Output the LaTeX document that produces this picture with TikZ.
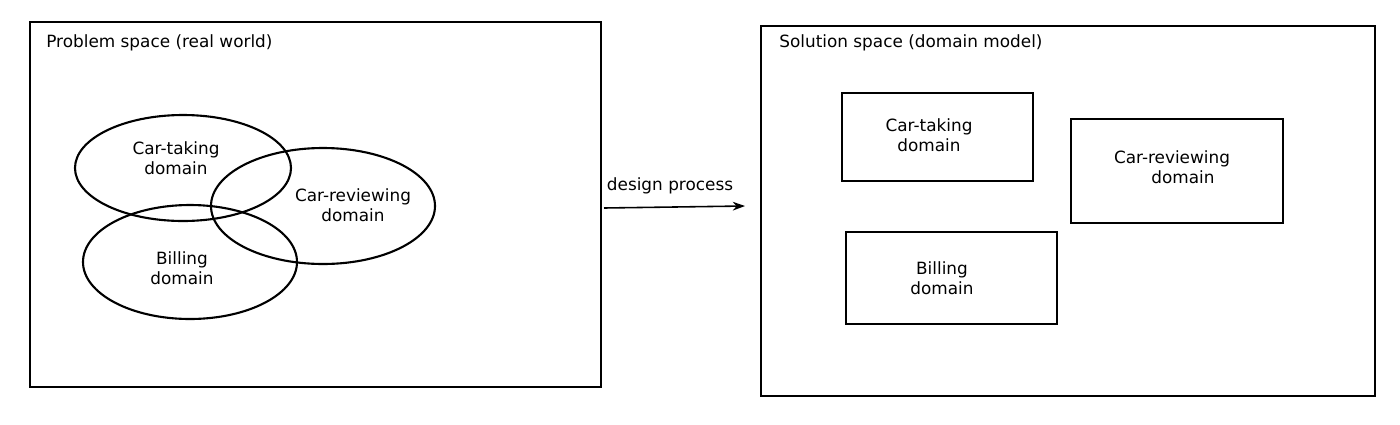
\documentclass[tikz,border=0pt]{standalone}
\usepackage{fontspec}
\setmainfont{DejaVu Sans}
\usepackage{tikz}
\usetikzlibrary{arrows.meta,positioning}

\tikzset{
  frame/.style={draw=black, line width=1.1pt},
  blob/.style={draw=black, line width=1.2pt},
  txt/.style={inner sep=0pt, align=center, font=\fontsize{9.6}{11.4}\selectfont},
}

\begin{document}
\begin{tikzpicture}
\useasboundingbox (0.000000,0.000000) rectangle (28.000000,-8.480000);

%Problem space frame
\draw[frame] (0.600000,-0.440000) rectangle (12.020000,-7.740000);
\node[txt, anchor=west] (probtitle) at (0.920000,-0.860000) {Problem space (real world)};

%Solution space frame
\draw[frame] (15.220000,-0.520000) rectangle (27.500000,-7.920000);
\node[txt, anchor=west] (soltitle) at (15.580000,-0.860000) {Solution space (domain model)};

%Problem domain 1
\draw[blob] (3.660000,-3.360000) ellipse (2.160000 and 1.060000);
\node[txt] (pcartaking) at (3.520000,-3.160000) {Car-taking\\domain};

%Problem domain 2
\draw[blob] (6.460000,-4.120000) ellipse (2.240000 and 1.160000);
\node[txt] (pcarreview) at (7.060000,-4.100000) {Car-reviewing\\domain};

%Problem domain 3
\draw[blob] (3.800000,-5.240000) ellipse (2.140000 and 1.140000);
\node[txt] (pbilling) at (3.640000,-5.360000) {Billing\\domain};

%Solution domain 1
\draw[frame] (16.840000,-1.860000) rectangle (20.660000,-3.620000);
\node[txt] (scartaking) at (18.580000,-2.700000) {Car-taking\\domain};

%Solution domain 2
\draw[frame] (21.420000,-2.380000) rectangle (25.660000,-4.460000);
\node[txt] (scarreview) at (23.440000,-3.340000) {Car-reviewing\\\hspace*{1.3em}domain};

%Solution domain 3
\draw[frame] (16.920000,-4.640000) rectangle (21.140000,-6.480000);
\node[txt] (sbilling) at (18.840000,-5.560000) {Billing\\domain};

%Design process
\coordinate (arrowstart) at (12.080000,-4.160000);
\coordinate (arrowend) at (14.900000,-4.120000);
\draw[line width=0.9pt, -{Stealth[length=7pt, width=5pt]}] (arrowstart) -- (arrowend);
\node[txt] (design) at (13.400000,-3.720000) {design process};
\end{tikzpicture}
\end{document}
